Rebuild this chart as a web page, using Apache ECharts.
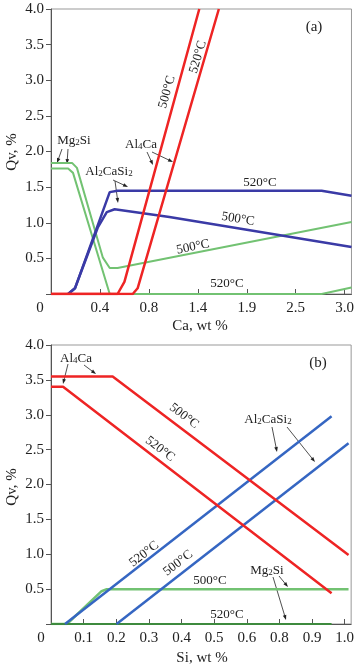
<!DOCTYPE html>
<html>
<head>
<meta charset="utf-8">
<script src="https://cdn.jsdelivr.net/npm/echarts@6/dist/echarts.min.js"></script>
<style>
  html, body { margin: 0; padding: 0; background: #fff; }
  #chart { width: 357px; height: 668px; }
</style>
</head>
<body>
<div id="chart"></div>
<script>
// x values are tick positions (0,1,2,...) on the printed axes
var xLabelsA = ['0', '0.4', '0.8', '1.4', '1.9', '2.5', '3.0']
var xLabelsB = ['0', '0.1', '0.2', '0.3', '0.4', '0.5', '0.6', '0.8', '0.9', '1.0']

// panel (a), Ca
var mg2si500A = [[0, 1.84], [0.43, 1.84], [0.53, 1.77], [1.06, 0.51], [1.20, 0.365], [1.36, 0.365], [6.14, 1.01]]
var mg2si520A = [[0, 1.76], [0.35, 1.76], [0.45, 1.70], [1.20, 0], [5.53, 0], [6.14, 0.09]]
var al2casi2520A = [[0.35, 0], [0.49, 0.08], [1.20, 1.43], [1.36, 1.45], [5.53, 1.45], [6.14, 1.38]]
var al2casi2500A = [[0.35, 0], [0.49, 0.08], [0.96, 0.94], [1.14, 1.15], [1.30, 1.19], [2.42, 1.08], [6.14, 0.66]]
var al4ca500A = [[0, 0], [1.36, 0], [1.50, 0.17], [3.03, 4.0]]
var al4ca520A = [[0, 0], [1.67, 0], [1.77, 0.08], [3.43, 4.0]]

// panel (b), Si
var al4ca500B = [[0, 3.55], [1.89, 3.55], [9.12, 0.99]]
var al4ca520B = [[0, 3.40], [0.37, 3.40], [8.60, 0.44]]
var al2casi2520B = [[0.43, 0], [8.60, 2.98]]
var al2casi2500B = [[2.01, 0], [9.12, 2.59]]
var mg2si500B = [[0, 0], [0.49, 0], [1.55, 0.47], [1.71, 0.50], [9.12, 0.50]]
var mg2si520B = [[0, 0], [8.60, 0]]

var FONT = '"Liberation Serif", "Times New Roman", serif'
var RED = '#ee2424'
var GREEN = '#72c272'
var NAVY = '#3a3aa6'
var BLUE = '#3566c2'

function line(name, data, color, gi, w) {
  return {
    name: name, type: 'line', data: data, xAxisIndex: gi, yAxisIndex: gi,
    showSymbol: false, silent: true, animation: false,
    lineStyle: { color: color, width: w || 2.5 }
  }
}

function txt(x, y, s, size, rot) {
  return {
    type: 'text', x: x, y: y, rotation: rot || 0, silent: true,
    style: {
      text: s, fontFamily: FONT, fontSize: size || 13, fill: '#222',
      align: 'center', verticalAlign: 'middle',
      rich: {
        n: { fontFamily: FONT, fontSize: size || 13, fill: '#222', lineHeight: 16, verticalAlign: 'bottom' },
        s: { fontFamily: FONT, fontSize: 9, fill: '#222', lineHeight: 14, verticalAlign: 'bottom' }
      }
    }
  }
}

function arrow(x1, y1, x2, y2) {
  var a = Math.atan2(y2 - y1, x2 - x1), L = 5, W = 1.8
  var c = Math.cos(a), s = Math.sin(a)
  return {
    type: 'group', silent: true,
    children: [
      { type: 'line', shape: { x1: x1, y1: y1, x2: x2 - c * 3, y2: y2 - s * 3 }, style: { stroke: '#222', lineWidth: 0.8 } },
      { type: 'polygon', shape: { points: [[x2, y2], [x2 - L * c + W * s, y2 - L * s - W * c], [x2 - L * c - W * s, y2 - L * s + W * c]] }, style: { fill: '#222' } }
    ]
  }
}

function xAxis(gi, max, labels) {
  return {
    type: 'value', gridIndex: gi, min: 0, max: max, interval: 1,
    axisLine: { lineStyle: { color: '#555', width: 1 } },
    axisTick: { inside: true, length: 5, lineStyle: { color: '#555' } },
    splitLine: { show: false },
    axisLabel: {
      fontFamily: FONT, fontSize: 15, color: '#222', margin: 7, showMaxLabel: false,
      formatter: function (v) {
        var i = Math.round(v)
        if (Math.abs(v - i) > 1e-6 || i === 0) return ''
        return labels[i] || ''
      }
    }
  }
}

function yAxis(gi) {
  return {
    type: 'value', gridIndex: gi, min: 0, max: 4, interval: 0.5,
    axisLine: { show: true, lineStyle: { color: '#555', width: 1 } },
    axisTick: { show: true, length: 5, lineStyle: { color: '#555' } },
    splitLine: { show: false },
    axisLabel: {
      fontFamily: FONT, fontSize: 15, color: '#222', margin: 7,
      formatter: function (v) { return v === 0 ? '' : v.toFixed(1) }
    }
  }
}

var chart = echarts.init(document.getElementById('chart'))

chart.setOption({
  backgroundColor: '#fff',
  animation: false,
  grid: [
    { left: 51, top: 9, width: 302, height: 285, show: true, borderColor: '#999', borderWidth: 1 },
    { left: 51, top: 345, width: 302, height: 279, show: true, borderColor: '#999', borderWidth: 1 }
  ],
  xAxis: [xAxis(0, 6.14, xLabelsA), xAxis(1, 9.2, xLabelsB)],
  yAxis: [yAxis(0), yAxis(1)],
  series: [
    line('Mg2Si 500', mg2si500A, GREEN, 0, 2),
    line('Mg2Si 520', mg2si520A, GREEN, 0, 2),
    line('Al2CaSi2 520', al2casi2520A, NAVY, 0),
    line('Al2CaSi2 500', al2casi2500A, NAVY, 0),
    line('Al4Ca 500', al4ca500A, RED, 0),
    line('Al4Ca 520', al4ca520A, RED, 0),

    line('Mg2Si 500', mg2si500B, GREEN, 1, 2.5),
    line('Mg2Si 520', mg2si520B, '#3e8a3e', 1, 2),
    line('Al2CaSi2 520', al2casi2520B, BLUE, 1),
    line('Al2CaSi2 500', al2casi2500B, BLUE, 1),
    line('Al4Ca 500', al4ca500B, RED, 1),
    line('Al4Ca 520', al4ca520B, RED, 1)
  ],
  graphic: [
    // panel (a)
    txt(314, 27, '(a)', 15),
    txt(40, 308, '0', 15),
    txt(200, 326, 'Ca, wt %', 15),
    txt(12, 152, 'Qv, %', 15, Math.PI / 2),
    txt(74, 139, '{n|Mg}{s|2}{n|Si}'),
    arrow(62, 149, 57, 163),
    arrow(68, 149, 67, 164),
    txt(109, 170, '{n|Al}{s|2}{n|CaSi}{s|2}'),
    arrow(113, 180, 128, 187),
    arrow(115, 181, 118, 203),
    txt(141, 143, '{n|Al}{s|4}{n|Ca}'),
    arrow(147, 152, 153, 165),
    arrow(152, 152, 173, 162),
    txt(167, 92, '500°C', 13, 1.30),
    txt(198, 57, '520°C', 13, 1.28),
    txt(260, 183, '520°C'),
    txt(238, 219, '500°C', 13, -0.16),
    txt(193, 247, '500°C', 13, 0.2),
    txt(227, 284, '520°C'),

    // panel (b)
    txt(318, 363, '(b)', 15),
    txt(41, 638, '0', 15),
    txt(202, 658, 'Si, wt %', 15),
    txt(12, 487, 'Qv, %', 15, Math.PI / 2),
    txt(76, 357, '{n|Al}{s|4}{n|Ca}'),
    arrow(68, 364, 63, 384),
    arrow(84, 365, 96, 374),
    txt(184, 416, '500°C', 13, -0.65),
    txt(160, 449, '520°C', 13, -0.65),
    txt(268, 418, '{n|Al}{s|2}{n|CaSi}{s|2}'),
    arrow(272, 427, 277, 452),
    arrow(287, 427, 315, 462),
    txt(144, 554, '520°C', 13, 0.66),
    txt(178, 563, '500°C', 13, 0.66),
    txt(210, 581, '500°C'),
    txt(267, 569, '{n|Mg}{s|2}{n|Si}'),
    arrow(279, 576, 288, 587),
    arrow(273, 577, 286, 620),
    txt(227, 615, '520°C')
  ]
})
</script>
</body>
</html>
